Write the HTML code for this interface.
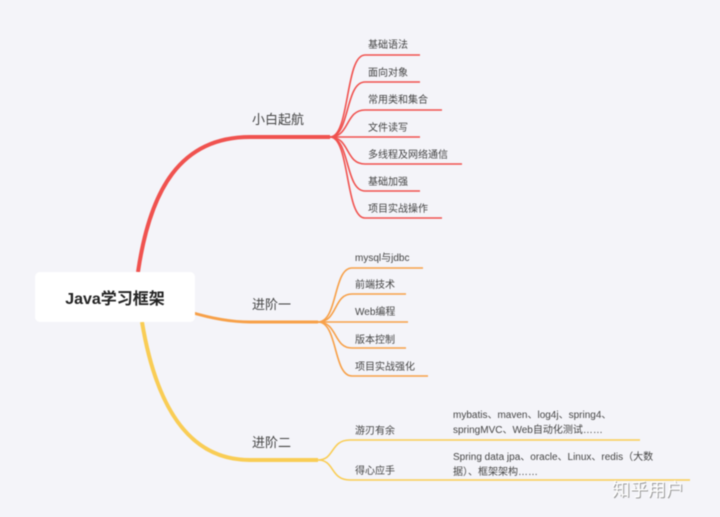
<!DOCTYPE html>
<html><head><meta charset="utf-8"><style>
html,body{margin:0;padding:0;background:#f4f4f9;}
svg{display:block;filter:blur(0.6px)}
text{font-family:"Liberation Sans","Noto Sans CJK SC",sans-serif;fill:#444;}
</style></head><body>
<svg width="720" height="517" viewBox="0 0 720 517" xmlns="http://www.w3.org/2000/svg">
<rect width="720" height="517" fill="#f4f4f9"/>
<g fill="none" stroke="#f0524f" stroke-width="1.6">
<path d="M138 272 C150 190,180 137,250 137 L330 137" stroke-width="4"/>
<path d="M330 137 C350 137,345 55,365 55 L420 55"/>
<path d="M330 137 C350 137,345 82,365 82 L420 82"/>
<path d="M330 137 C350 137,345 110,365 110 L442 110"/>
<path d="M330 137 L420 137"/>
<path d="M330 137 C350 137,345 164,365 164 L462 164"/>
<path d="M330 137 C350 137,345 191,365 191 L420 191"/>
<path d="M330 137 C350 137,345 218,365 218 L442 218"/>
</g>
<g fill="none" stroke="#f7a048" stroke-width="1.6">
<path d="M190 312 C210 318,230 322,250 322 L318 322" stroke-width="3"/>
<path d="M318 322 C338 322,333 268,352 268 L423 268"/>
<path d="M318 322 C338 322,333 294,352 294 L406 294"/>
<path d="M318 322 L408 322"/>
<path d="M318 322 C338 322,333 348,352 348 L406 348"/>
<path d="M318 322 C338 322,333 376,352 376 L428 376"/>
</g>
<g fill="none" stroke="#f9cd55" stroke-width="1.6">
<path d="M142 322 C155 400,185 460,250 460 L318 460" stroke-width="4"/>
<path d="M318 460 C335 460,330 440,350 440 L640 440"/>
<path d="M318 460 C335 460,330 480,350 480 L690 480"/>
</g>
<rect x="35" y="272" width="160" height="50" rx="5" fill="#fff"/>
<text x="115" y="304" font-size="16" font-weight="bold" text-anchor="middle" style="fill:#222">Java学习框架</text>
<g font-size="13">
<text x="252" y="124">小白起航</text>
<text x="252" y="309">进阶一</text>
<text x="252" y="447">进阶二</text>
</g>
<g font-size="10">
<text x="368" y="48">基础语法</text>
<text x="368" y="76">面向对象</text>
<text x="368" y="103">常用类和集合</text>
<text x="368" y="131">文件读写</text>
<text x="368" y="158">多线程及网络通信</text>
<text x="368" y="185">基础加强</text>
<text x="368" y="212">项目实战操作</text>
<text x="355" y="261">mysql与jdbc</text>
<text x="355" y="288">前端技术</text>
<text x="355" y="315">Web编程</text>
<text x="355" y="343">版本控制</text>
<text x="355" y="370">项目实战强化</text>
<text x="355" y="434">游刃有余</text>
<text x="355" y="474">得心应手</text>
<text x="453" y="418">mybatis、maven、log4j、spring4、</text>
<text x="453" y="433">springMVC、Web自动化测试……</text>
<text x="453" y="460">Spring data jpa、oracle、Linux、redis（大数</text>
<text x="453" y="475">据）、框架架构……</text>
</g>
<text x="613" y="497" font-size="18" style="fill:#999">知乎用户</text>
<text x="612" y="496" font-size="18" style="fill:#fff">知乎用户</text>
</svg>
</body></html>
